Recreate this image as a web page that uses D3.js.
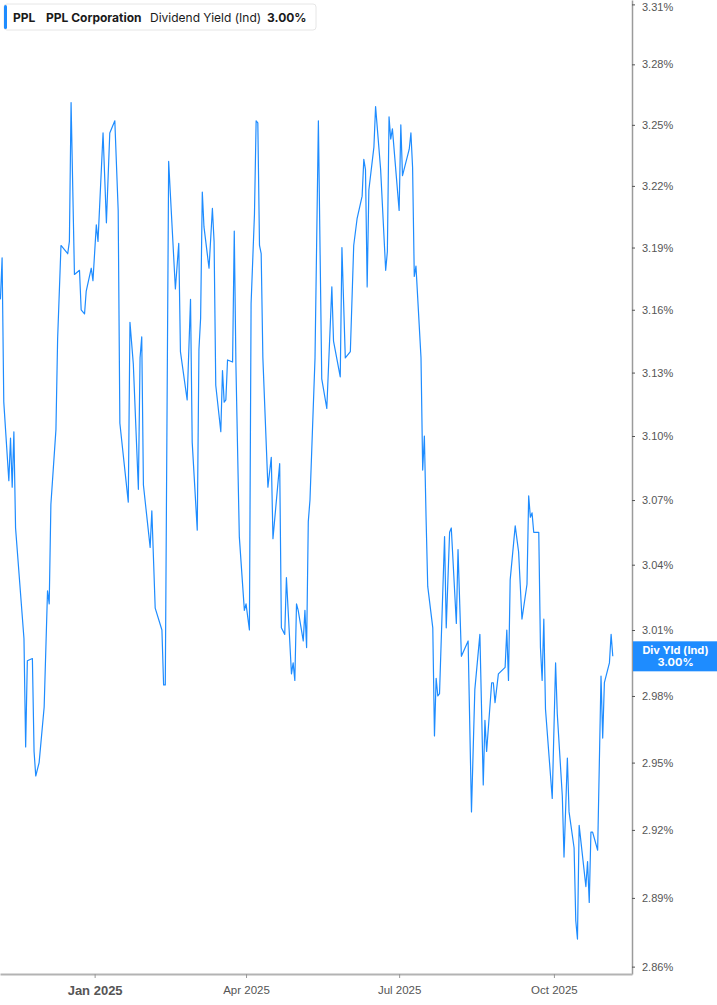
<!DOCTYPE html>
<html>
<head>
<meta charset="utf-8">
<script src="https://cdn.jsdelivr.net/npm/d3@7"></script>
<style>
  body { margin: 0; background: #fff; font-family: Inter, "Noto Sans", sans-serif; }
  #chart svg { display: block; }
</style>
</head>
<body>
<div id="chart"></div>
<script>
/**
 * DATA
 * */
const dates = [
  "2024-11-06","2024-11-07","2024-11-08","2024-11-11","2024-11-12","2024-11-13","2024-11-14","2024-11-15",
  "2024-11-20","2024-11-21","2024-11-22","2024-11-25","2024-11-26","2024-11-27","2024-11-29","2024-12-02",
  "2024-12-04","2024-12-05","2024-12-06","2024-12-09","2024-12-10","2024-12-12","2024-12-16","2024-12-17",
  "2024-12-18","2024-12-20","2024-12-23","2024-12-24","2024-12-26","2024-12-27","2024-12-30","2024-12-31",
  "2025-01-02","2025-01-03","2025-01-06","2025-01-08","2025-01-10","2025-01-13","2025-01-15","2025-01-16",
  "2025-01-21","2025-01-22","2025-01-24","2025-01-27","2025-01-28","2025-01-29","2025-01-30","2025-02-03",
  "2025-02-04","2025-02-06","2025-02-10","2025-02-11","2025-02-12","2025-02-14","2025-02-18","2025-02-20",
  "2025-02-21","2025-02-25","2025-02-27","2025-02-28","2025-03-03","2025-03-04","2025-03-05","2025-03-06",
  "2025-03-07","2025-03-10","2025-03-12","2025-03-13","2025-03-14","2025-03-17","2025-03-18","2025-03-19",
  "2025-03-20","2025-03-21","2025-03-24","2025-03-25","2025-03-26","2025-03-28","2025-03-31","2025-04-01",
  "2025-04-03","2025-04-04","2025-04-06","2025-04-07","2025-04-08","2025-04-09","2025-04-10","2025-04-11",
  "2025-04-14","2025-04-16","2025-04-17","2025-04-21","2025-04-22","2025-04-24","2025-04-25","2025-04-28",
  "2025-04-29","2025-04-30","2025-05-01","2025-05-02","2025-05-05","2025-05-06","2025-05-07","2025-05-08",
  "2025-05-09","2025-05-12","2025-05-14","2025-05-16","2025-05-19","2025-05-22","2025-05-23","2025-05-27",
  "2025-05-28","2025-05-30","2025-06-02","2025-06-04","2025-06-06","2025-06-09","2025-06-10","2025-06-11",
  "2025-06-12","2025-06-13","2025-06-16","2025-06-17","2025-06-20","2025-06-23","2025-06-24","2025-06-25",
  "2025-06-26","2025-06-27","2025-07-01","2025-07-02","2025-07-03","2025-07-07","2025-07-08","2025-07-09",
  "2025-07-10","2025-07-11","2025-07-14","2025-07-15","2025-07-16","2025-07-17","2025-07-18","2025-07-21",
  "2025-07-22","2025-07-23","2025-07-24","2025-07-25","2025-07-28","2025-07-29","2025-07-31","2025-08-01",
  "2025-08-04","2025-08-05","2025-08-07","2025-08-11","2025-08-13","2025-08-15","2025-08-18","2025-08-20",
  "2025-08-21","2025-08-22","2025-08-25","2025-08-26","2025-08-27","2025-08-29","2025-09-02","2025-09-03",
  "2025-09-04","2025-09-05","2025-09-08","2025-09-10","2025-09-12","2025-09-15","2025-09-16","2025-09-17",
  "2025-09-18","2025-09-19","2025-09-22","2025-09-23","2025-09-24","2025-09-25","2025-09-26","2025-09-30",
  "2025-10-02","2025-10-03","2025-10-06","2025-10-07","2025-10-09","2025-10-10","2025-10-13","2025-10-14",
  "2025-10-15","2025-10-16","2025-10-20","2025-10-21","2025-10-22","2025-10-23","2025-10-24","2025-10-27",
  "2025-10-29","2025-10-30","2025-10-31","2025-11-03","2025-11-04","2025-11-05"
];

const yields = [
  3.165, 3.185, 3.116, 3.079, 3.099, 3.076, 3.102, 3.057,
  3.006, 2.957, 2.996, 2.997, 2.955, 2.944, 2.950, 2.975,
  3.028, 3.022, 3.068, 3.103, 3.146, 3.191, 3.187, 3.193,
  3.261, 3.177, 3.179, 3.160, 3.158, 3.169, 3.180, 3.174,
  3.201, 3.193, 3.246, 3.202, 3.246, 3.252, 3.208, 3.106,
  3.069, 3.154, 3.134, 3.075, 3.137, 3.147, 3.077, 3.048,
  3.065, 3.020, 3.010, 2.985, 2.985, 3.232, 3.170, 3.192,
  3.140, 3.117, 3.165, 3.097, 3.056, 3.141, 3.156, 3.217,
  3.200, 3.180, 3.209, 3.193, 3.124, 3.102, 3.131, 3.116,
  3.117, 3.136, 3.135, 3.198, 3.133, 3.053, 3.019, 3.022,
  3.010, 3.163, 3.206, 3.252, 3.251, 3.191, 3.187, 3.137,
  3.076, 3.090, 3.052, 3.087, 3.011, 3.008, 3.034, 2.990,
  2.995, 2.987, 3.022, 3.019, 3.005, 3.019, 3.002, 3.060,
  3.070, 3.137, 3.252, 3.127, 3.113, 3.171, 3.145, 3.128,
  3.190, 3.137, 3.140, 3.191, 3.204, 3.215, 3.233, 3.228,
  3.171, 3.218, 3.239, 3.259, 3.228, 3.179, 3.188, 3.254,
  3.243, 3.248, 3.208, 3.250, 3.225, 3.238, 3.246, 3.229,
  3.176, 3.181, 3.137, 3.084, 3.100, 3.062, 3.030, 3.011,
  2.962, 2.988, 2.980, 2.981, 3.053, 3.011, 3.055, 3.057,
  3.013, 3.047, 2.998, 3.005, 2.928, 2.983, 3.008, 2.940,
  2.969, 2.955, 2.986, 2.986, 2.977, 2.990, 2.993, 3.010,
  2.987, 3.033, 3.058, 3.046, 3.015, 3.031, 3.072, 3.062,
  3.064, 3.055, 3.055, 3.002, 2.987, 3.015, 2.974, 2.934,
  2.995, 2.972, 2.935, 2.908, 2.952, 2.928, 2.912, 2.880,
  2.872, 2.922, 2.895, 2.906, 2.888, 2.919, 2.919, 2.911,
  2.989, 2.961, 2.986, 2.995, 3.008, 2.998
];

const yTicks = [2.86, 2.89, 2.92, 2.95, 2.98, 3.01, 3.04, 3.07, 3.10, 3.13, 3.16, 3.19, 3.22, 3.25, 3.28, 3.31];
const xTickDates = ["2025-01-01", "2025-04-01", "2025-07-01", "2025-10-01"];
const xTickLabels = ["Jan 2025", "Apr 2025", "Jul 2025", "Oct 2025"];

const ticker = "PPL";
const company = "PPL Corporation";
const metric = "Dividend Yield (Ind)";
const badgeLabel = "Div Yld (Ind)";

/**
 * CONSTANTS AND GLOBALS
 * */
const width = 717,
  height = 1005,
  plot = { left: 0, right: 632, top: 0, bottom: 974 };

const blue = "#1e8cff";
const parseDate = d3.timeParse("%Y-%m-%d");

let svg;

/**
 * INIT
 * */
function init() {
  const data = dates.map((d, i) => ({ date: parseDate(d), value: yields[i] }));
  const last = data[data.length - 1];

  const x = d3.scaleTime()
    .domain([new Date(2024, 10, 5, 18), new Date(2025, 10, 16, 10)])
    .range([plot.left, plot.right]);

  const y = d3.scaleLog()
    .domain([2.8568, 3.3122])
    .range([plot.bottom, plot.top]);

  svg = d3.select("#chart")
    .append("svg")
    .attr("width", width)
    .attr("height", height)
    .style("font-family", "Inter, 'Noto Sans', sans-serif");

  // right value axis
  const yAxis = svg.append("g")
    .attr("transform", `translate(${plot.right},0)`)
    .call(d3.axisRight(y)
      .tickValues(yTicks)
      .tickFormat(d => d.toFixed(2) + "%")
      .tickSize(3)
      .tickSizeOuter(0)
      .tickPadding(7));
  yAxis.select(".domain").attr("stroke", "#9b9b9b").attr("stroke-width", 1.5);
  yAxis.selectAll(".tick line").attr("stroke", "#555");
  yAxis.selectAll(".tick text")
    .attr("fill", "#555")
    .style("font-size", "11px");
  // keep the topmost label inside the frame
  yAxis.selectAll(".tick text")
    .filter(d => y(d) < 6)
    .attr("dy", "0.55em");

  // bottom time axis
  const xAxis = svg.append("g")
    .attr("transform", `translate(0,${plot.bottom})`)
    .call(d3.axisBottom(x)
      .tickValues(xTickDates.map(parseDate))
      .tickFormat((d, i) => xTickLabels[i])
      .tickSize(4)
      .tickSizeOuter(0)
      .tickPadding(8));
  xAxis.select(".domain").attr("stroke", "#b3b3b3").attr("stroke-width", 2);
  xAxis.selectAll(".tick line").attr("stroke", "#999");
  xAxis.selectAll(".tick text")
    .attr("fill", "#555")
    .style("font-size", (d, i) => i === 0 ? "13px" : "11.5px")
    .style("font-weight", (d, i) => i === 0 ? 700 : 500);

  // the yield line
  svg.append("clipPath")
    .attr("id", "plot-clip")
    .append("rect")
    .attr("x", plot.left)
    .attr("y", plot.top)
    .attr("width", plot.right - plot.left)
    .attr("height", plot.bottom - plot.top);

  const line = d3.line()
    .x(d => x(d.date))
    .y(d => y(d.value));

  svg.append("path")
    .datum(data)
    .attr("clip-path", "url(#plot-clip)")
    .attr("fill", "none")
    .attr("stroke", blue)
    .attr("stroke-width", 1.2)
    .attr("stroke-linejoin", "round")
    .attr("d", line);

  // last value badge on the axis
  const badge = svg.append("g")
    .attr("transform", `translate(${plot.right + 1},${y(last.value)})`);
  badge.append("rect")
    .attr("x", 0)
    .attr("y", -15)
    .attr("width", width - plot.right - 1)
    .attr("height", 30)
    .attr("fill", blue);
  badge.append("text")
    .attr("x", (width - plot.right) / 2)
    .attr("y", -2)
    .attr("text-anchor", "middle")
    .attr("fill", "#fff")
    .style("font-size", "11px")
    .style("font-weight", 700)
    .text(badgeLabel);
  badge.append("text")
    .attr("x", (width - plot.right) / 2)
    .attr("y", 10)
    .attr("text-anchor", "middle")
    .attr("fill", "#fff")
    .style("font-size", "11px")
    .style("font-weight", 700)
    .text(d3.format(".2f")(last.value) + "%");

  // legend box top-left
  const legend = svg.append("g").attr("transform", "translate(4,4)");
  legend.append("rect")
    .attr("width", 312)
    .attr("height", 26)
    .attr("rx", 3)
    .attr("fill", "#fff")
    .attr("stroke", "#e6e6e6");
  legend.append("rect")
    .attr("x", 0)
    .attr("y", 1)
    .attr("width", 3)
    .attr("height", 24)
    .attr("rx", 1.5)
    .attr("fill", blue);

  const items = [
    { text: ticker, x: 9, bold: true },
    { text: company, x: 42, bold: true },
    { text: metric, x: 146, bold: false },
    { text: d3.format(".2f")(last.value) + "%", x: 263, bold: true }
  ];
  legend.selectAll("text.item")
    .data(items)
    .join("text")
    .attr("class", "item")
    .attr("x", d => d.x)
    .attr("y", 17.5)
    .attr("fill", "#1a1a1a")
    .style("font-size", "12px")
    .style("font-weight", d => d.bold ? 700 : 400)
    .text(d => d.text);
}

init();
</script>
</body>
</html>
